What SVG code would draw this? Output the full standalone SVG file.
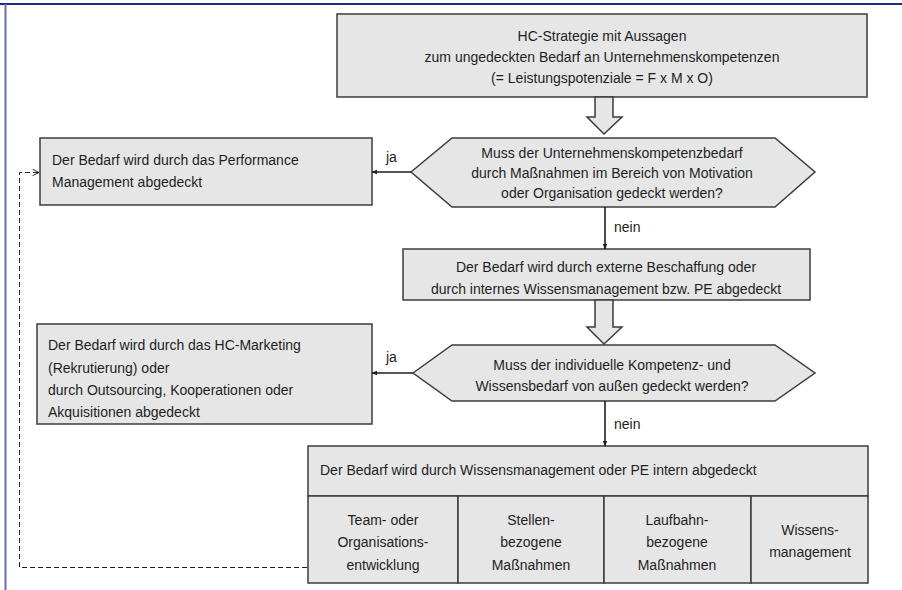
<svg xmlns="http://www.w3.org/2000/svg" width="902" height="590" viewBox="0 0 902 590">
<style>
.box{fill:#e6e6e6;stroke:#3c3c3c;stroke-width:1.5}
.t{font-family:"Liberation Sans",Arial,sans-serif;font-size:14px;fill:#1e1e1e}
.c{text-anchor:middle}
.con{stroke:#1e1e1e;stroke-width:1.6;fill:none}
.dash{stroke:#1e1e1e;stroke-width:1;fill:none;stroke-dasharray:5 3}
</style>
<defs>
<marker id="ah" viewBox="0 0 10 10" refX="9" refY="5" markerWidth="6" markerHeight="6" orient="auto-start-reverse" markerUnits="userSpaceOnUse">
<path d="M0,1 L10,5 L0,9 Z" fill="#1e1e1e"/>
</marker>
<marker id="open" viewBox="0 0 10 10" refX="9" refY="5" markerWidth="8" markerHeight="8" orient="auto" markerUnits="userSpaceOnUse">
<path d="M1,1 L9,5 L1,9" fill="none" stroke="#1e1e1e" stroke-width="1.2"/>
</marker>
</defs>
<rect x="0" y="0" width="902" height="590" fill="#fff"/>
<line x1="0" y1="4" x2="902" y2="4" stroke="#1c2a80" stroke-width="2"/>
<line x1="5.5" y1="4" x2="5.5" y2="590" stroke="#6b6fae" stroke-width="2"/>

<g id="n_start">
<rect class="box" x="337" y="14" width="530" height="83"/>
<text class="t c" x="602" y="41">HC-Strategie mit Aussagen</text>
<text class="t c" x="602" y="62">zum ungedeckten Bedarf an Unternehmenskompetenzen</text>
<text class="t c" x="602" y="83">(= Leistungspotenziale = F x M x O)</text>
</g>

<g id="n_arrow1">
<path class="box" d="M595,97 L613,97 L613,117 L622,117 L604,134 L587,117 L595,117 Z"/>
</g>

<g id="n_dec1">
<path class="box" d="M411,172 L452,138 L775,138 L815,172 L775,207 L452,207 Z"/>
<text class="t c" x="612" y="158">Muss der Unternehmenskompetenzbedarf</text>
<text class="t c" x="612" y="178">durch Maßnahmen im Bereich von Motivation</text>
<text class="t c" x="612" y="198">oder Organisation gedeckt werden?</text>
</g>

<g id="n_perf">
<rect class="box" x="40" y="138" width="332" height="67"/>
<text class="t" x="52" y="165">Der Bedarf wird durch das Performance</text>
<text class="t" x="52" y="187">Management abgedeckt</text>
</g>

<g id="n_ext">
<rect class="box" x="403" y="249" width="407" height="51"/>
<text class="t c" x="606" y="272">Der Bedarf wird durch externe Beschaffung oder</text>
<text class="t c" x="606" y="294">durch internes Wissensmanagement bzw. PE abgedeckt</text>
</g>

<g id="n_arrow2">
<path class="box" d="M595,300 L613,300 L613,327 L622,327 L604,344 L587,327 L595,327 Z"/>
</g>

<g id="n_dec2">
<path class="box" d="M413,373 L452,345 L775,345 L815,373 L775,401 L452,401 Z"/>
<text class="t c" x="612" y="370">Muss der individuelle Kompetenz- und</text>
<text class="t c" x="612" y="391">Wissensbedarf von außen gedeckt werden?</text>
</g>

<g id="n_hc">
<rect class="box" x="37" y="324" width="335" height="100"/>
<text class="t" x="48" y="350">Der Bedarf wird durch das HC-Marketing</text>
<text class="t" x="48" y="373">(Rekrutierung) oder</text>
<text class="t" x="48" y="395">durch Outsourcing, Kooperationen oder</text>
<text class="t" x="48" y="417">Akquisitionen abgedeckt</text>
</g>

<g id="n_intern">
<rect class="box" x="308" y="446" width="560" height="50"/>
<text class="t" x="320" y="475">Der Bedarf wird durch Wissensmanagement oder PE intern abgedeckt</text>
<rect class="box" x="308" y="496" width="150" height="87"/>
<rect class="box" x="458" y="496" width="146" height="87"/>
<rect class="box" x="604" y="496" width="147" height="87"/>
<rect class="box" x="751" y="496" width="117" height="87"/>
<text class="t c" x="383" y="525">Team- oder</text>
<text class="t c" x="383" y="547">Organisations-</text>
<text class="t c" x="383" y="570">entwicklung</text>
<text class="t c" x="531" y="525">Stellen-</text>
<text class="t c" x="531" y="547">bezogene</text>
<text class="t c" x="531" y="570">Maßnahmen</text>
<text class="t c" x="677" y="525">Laufbahn-</text>
<text class="t c" x="677" y="547">bezogene</text>
<text class="t c" x="677" y="570">Maßnahmen</text>
<text class="t c" x="810" y="535">Wissens-</text>
<text class="t c" x="810" y="557">management</text>
</g>

<g id="connectors">
<line class="con" x1="411" y1="172" x2="372" y2="172" marker-end="url(#ah)"/>
<text class="t" x="386" y="162">ja</text>
<line class="con" x1="605" y1="207" x2="605" y2="249" marker-end="url(#ah)"/>
<text class="t" x="614" y="232">nein</text>
<line class="con" x1="413" y1="373" x2="372" y2="373" marker-end="url(#ah)"/>
<text class="t" x="386" y="362">ja</text>
<line class="con" x1="605" y1="401" x2="605" y2="446" marker-end="url(#ah)"/>
<text class="t" x="614" y="429">nein</text>
<path class="dash" d="M307,567.5 L19.5,567.5 L19.5,172.5 L39,172.5" marker-end="url(#open)"/>
</g>
</svg>
